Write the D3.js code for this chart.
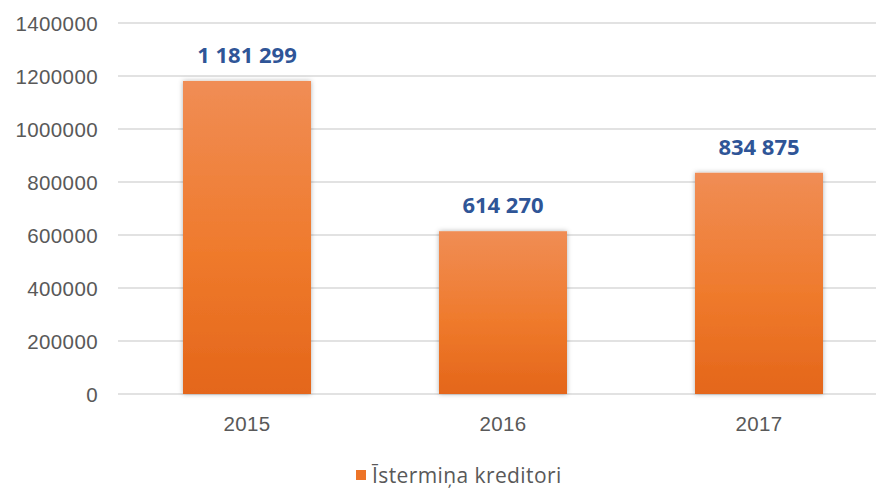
<!DOCTYPE html>
<html>
<head>
  <meta charset="UTF-8">
  <style>
    body {
      margin: 0;
      background-color: white;
      font-family: 'Open Sans', sans-serif;
    }
    svg { display: block; }
    .tick text { fill: #595959; font-size: 20.5px; }
  </style>
</head>
<body>

<svg></svg>

<script src="https://d3js.org/d3.v7.min.js"></script>

<script>
let years = ["2015", "2016", "2017"];
let values = [1181299, 614270, 834875];
let valueLabels = ["1 181 299", "614 270", "834 875"];
let yTicks = [0, 200000, 400000, 600000, 800000, 1000000, 1200000, 1400000];
let seriesName = "Īstermiņa kreditori";

let width = 876, height = 488;

let svg = d3.select("svg")
    .attr("width", width)
    .attr("height", height);

let x = d3.scaleBand()
    .domain(years)
    .range([119, 887])
    .paddingInner(0.5)
    .paddingOuter(0.25);

let y = d3.scaleLinear()
    .domain([0, 1400000])
    .range([394, 23]);

let defs = svg.append("defs");

let grad = defs.append("linearGradient")
    .attr("id", "barGrad")
    .attr("x1", 0).attr("y1", 0)
    .attr("x2", 0).attr("y2", 1);
grad.append("stop").attr("offset", "0%").attr("stop-color", "#f08d55");
grad.append("stop").attr("offset", "55%").attr("stop-color", "#ef7a2c");
grad.append("stop").attr("offset", "100%").attr("stop-color", "#e4661a");

let shadow = defs.append("filter")
    .attr("id", "shadow")
    .attr("x", "-20%").attr("y", "-20%")
    .attr("width", "140%").attr("height", "140%");
shadow.append("feDropShadow")
    .attr("dx", 0).attr("dy", 0)
    .attr("stdDeviation", 2.5)
    .attr("flood-color", "#000")
    .attr("flood-opacity", 0.3);

// grid lines
svg.append("g")
    .selectAll("line")
    .data(yTicks)
    .enter()
    .append("line")
    .attr("x1", 118)
    .attr("x2", width)
    .attr("y1", d => y(d))
    .attr("y2", d => y(d))
    .attr("stroke", "#d9d9d9")
    .attr("stroke-width", 1.5);

// y axis labels
let yAxis = svg.append("g")
    .attr("transform", "translate(98,0)")
    .call(d3.axisLeft(y).tickValues(yTicks).tickSize(0).tickPadding(0).tickFormat(d3.format("d")));
yAxis.select(".domain").remove();
yAxis.selectAll("text").attr("dy", "0.36em").attr("letter-spacing", "0.4px");

// x axis labels
let xAxis = svg.append("g")
    .attr("transform", "translate(0,400)")
    .call(d3.axisBottom(x).tickSize(0).tickPadding(16));
xAxis.select(".domain").remove();
xAxis.selectAll("text").attr("dy", "0.71em").attr("letter-spacing", "0.3px");

// bars
svg.append("g")
    .selectAll("rect")
    .data(values)
    .enter()
    .append("rect")
    .attr("x", (d, i) => x(years[i]))
    .attr("width", x.bandwidth())
    .attr("y", d => y(d))
    .attr("height", d => y(0) - y(d))
    .attr("fill", "url(#barGrad)")
    .attr("filter", "url(#shadow)");

// value labels
svg.append("g")
    .selectAll("text")
    .data(values)
    .enter()
    .append("text")
    .attr("x", (d, i) => x(years[i]) + x.bandwidth() / 2)
    .attr("y", d => y(d) - 18)
    .attr("text-anchor", "middle")
    .attr("font-size", "22px")
    .attr("font-weight", "bold")
    .attr("fill", "#2f5597")
    .text((d, i) => valueLabels[i]);

// legend
let legend = svg.append("g").attr("transform", "translate(356,470)");
legend.append("rect")
    .attr("width", 10)
    .attr("height", 10)
    .attr("fill", "#ed7428");
legend.append("text")
    .attr("x", 16)
    .attr("y", 13)
    .attr("font-size", "21px")
    .attr("letter-spacing", "0.4px")
    .attr("fill", "#595959")
    .text(seriesName);
</script>

</body>
</html>
